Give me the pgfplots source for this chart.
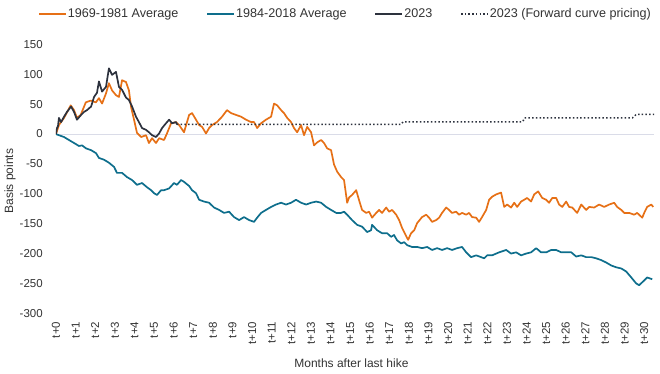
\documentclass[border=0pt]{standalone}
\usepackage{fontspec}
\setmainfont{Liberation Sans}
\usepackage{pgfplots}
\pgfplotsset{compat=1.18}
\definecolor{corange}{RGB}{230,112,22}
\definecolor{cteal}{RGB}{14,110,140}
\definecolor{cblack}{RGB}{45,50,62}
\definecolor{czero}{RGB}{218,220,232}
\begin{document}
\begin{tikzpicture}
\path[use as bounding box] (0pt,0pt) rectangle (660pt,374pt);
\begin{axis}[
  at={(56pt,60.7pt)}, anchor=south west,
  scale only axis, width=598pt, height=268.9pt,
  xmin=0, xmax=30.5, ymin=-300, ymax=150,
  axis line style={draw=none},
  major tick length=0pt,
  xtick={0,...,30},
  xticklabels={t+0,t+1,t+2,t+3,t+4,t+5,t+6,t+7,t+8,t+9,t+10,t+11,t+12,t+13,t+14,t+15,t+16,t+17,t+18,t+19,t+20,t+21,t+22,t+23,t+24,t+25,t+26,t+27,t+28,t+29,t+30},
  xticklabel style={yshift=-5pt, rotate=90, anchor=east, font=\fontsize{11.5}{13}\selectfont, text=black!80},
  ytick={-300,-250,...,150},
  yticklabel style={xshift=-9.7pt, font=\fontsize{11.5}{13}\selectfont, text=black!80},
  /pgf/number format/assume math mode=true,
  xlabel={Months after last hike},
  ylabel={Basis points},
  every axis x label/.style={at={(axis description cs:0.494,-0.185)}, anchor=center, font=\fontsize{12}{14}\selectfont, text=black!80},
  every axis y label/.style={at={(axis description cs:-0.0769,0.492)}, rotate=90, anchor=center, font=\fontsize{12}{14}\selectfont, text=black!80},
  legend columns=4,
  legend style={at={(axis description cs:-0.035,1.113)}, anchor=west, draw=none, fill=none,
    font=\fontsize{12.6}{14}\selectfont, text=black!80,
    /tikz/every even column/.append style={column sep=27pt},
    nodes={inner sep=1pt}},
  legend image code/.code={\draw[#1] (0pt,0pt) -- (27pt,0pt);},
  line join=round,
]
\addplot[czero, line width=0.8pt, forget plot] coordinates {(0,0) (30.5,0)};
\addplot[corange, line width=1.7pt] coordinates {
(0,0) (0.15,15) (0.41,27) (0.75,48) (0.92,40) (1.07,27) (1.26,32) (1.52,53) (1.77,56) (2.03,53)
(2.19,60) (2.35,51) (2.55,68) (2.70,85) (2.86,73) (3.06,65) (3.21,62) (3.37,90) (3.57,87) (3.72,73)
(3.83,45) (3.98,24) (4.13,2) (4.34,-5) (4.59,-2) (4.74,-15) (4.90,-7) (5.10,-15) (5.26,-7) (5.51,-10)
(5.66,1) (5.87,18) (6.12,20) (6.28,15) (6.53,3) (6.79,32) (6.94,35) (7.14,24) (7.30,15) (7.45,12)
(7.65,1) (7.81,10) (7.96,15) (8.21,20) (8.47,29) (8.72,40) (8.93,35) (9.18,32) (9.44,29) (9.69,24)
(9.95,20) (10.10,20) (10.26,10) (10.46,18) (10.71,24) (10.97,29) (11.12,51) (11.28,48) (11.48,40) (11.63,35)
(11.79,27) (11.99,20) (12.14,10) (12.30,3) (12.50,15) (12.65,-2) (12.81,12) (13.01,3) (13.16,-19) (13.32,-14)
(13.52,-10) (13.67,-15) (13.83,-24) (14.03,-27) (14.18,-51) (14.34,-63) (14.54,-72) (14.69,-77) (14.85,-115) (14.95,-106)
(15.10,-102) (15.31,-94) (15.46,-111) (15.61,-127) (15.82,-132) (15.97,-130) (16.12,-140) (16.33,-132) (16.48,-127) (16.63,-132)
(16.84,-123) (16.99,-130) (17.14,-127) (17.35,-135) (17.50,-144) (17.65,-157) (17.86,-171) (17.96,-177) (18.11,-166) (18.27,-161)
(18.42,-149) (18.67,-139) (18.88,-135) (19.03,-140) (19.18,-147) (19.39,-144) (19.54,-140) (19.69,-132) (19.90,-123) (20.05,-127)
(20.20,-132) (20.41,-130) (20.56,-135) (20.71,-132) (20.92,-135) (21.07,-132) (21.22,-139) (21.43,-140) (21.58,-147) (21.73,-139)
(21.94,-127) (22.09,-110) (22.24,-105) (22.45,-101) (22.70,-98) (22.86,-122) (23.01,-118) (23.21,-123) (23.37,-115) (23.52,-122)
(23.72,-113) (23.88,-110) (24.03,-107) (24.23,-113) (24.39,-101) (24.59,-96) (24.80,-107) (25.00,-110) (25.15,-115) (25.31,-107)
(25.51,-107) (25.66,-118) (25.82,-122) (26.02,-113) (26.17,-122) (26.33,-123) (26.58,-132) (26.79,-118) (27.04,-127) (27.19,-122)
(27.45,-123) (27.70,-118) (27.96,-122) (28.21,-118) (28.47,-115) (28.62,-122) (28.83,-127) (28.98,-132) (29.23,-132) (29.49,-135)
(29.64,-132) (29.90,-140) (30.00,-132) (30.15,-122) (30.36,-118) (30.46,-122)
};
\addlegendentry{1969-1981 Average}
\addplot[cteal, line width=1.7pt] coordinates {
(0,0) (0.15,-2) (0.41,-5) (0.66,-10) (0.92,-15) (1.17,-20) (1.33,-19) (1.53,-24) (1.79,-27) (2.04,-32)
(2.19,-40) (2.45,-43) (2.70,-48) (2.96,-55) (3.11,-65) (3.37,-65) (3.62,-72) (3.88,-77) (4.13,-85) (4.39,-82)
(4.64,-89) (4.85,-94) (5.00,-99) (5.15,-102) (5.36,-94) (5.51,-94) (5.77,-91) (6.02,-82) (6.17,-85) (6.38,-77)
(6.53,-80) (6.79,-87) (6.94,-94) (7.14,-99) (7.30,-110) (7.55,-113) (7.81,-115) (8.06,-123) (8.32,-127) (8.57,-132)
(8.83,-130) (9.08,-139) (9.34,-144) (9.59,-139) (9.85,-144) (10.10,-147) (10.26,-140) (10.46,-132) (10.71,-127) (10.97,-122)
(11.22,-118) (11.48,-115) (11.73,-118) (11.99,-115) (12.24,-110) (12.50,-115) (12.76,-118) (13.01,-115) (13.27,-113) (13.52,-115)
(13.78,-122) (14.03,-127) (14.29,-132) (14.54,-132) (14.69,-130) (14.85,-135) (15.10,-144) (15.36,-152) (15.61,-155) (15.87,-164)
(16.07,-161) (16.12,-152) (16.38,-161) (16.63,-166) (16.89,-166) (17.09,-172) (17.24,-169) (17.40,-178) (17.60,-183) (17.76,-181)
(17.91,-186) (18.16,-189) (18.42,-189) (18.67,-191) (18.93,-189) (19.18,-194) (19.44,-191) (19.69,-194) (19.95,-191) (20.20,-194)
(20.46,-191) (20.71,-189) (20.92,-198) (21.17,-206) (21.43,-203) (21.68,-206) (21.84,-208) (21.99,-203) (22.24,-203) (22.60,-198)
(22.96,-194) (23.21,-200) (23.47,-198) (23.72,-203) (23.98,-200) (24.23,-198) (24.49,-191) (24.74,-198) (25.00,-198) (25.26,-194)
(25.51,-194) (25.77,-198) (26.02,-198) (26.28,-198) (26.53,-205) (26.79,-203) (27.04,-206) (27.30,-206) (27.55,-208) (27.81,-211)
(28.06,-215) (28.32,-220) (28.57,-223) (28.83,-225) (29.08,-230) (29.34,-240) (29.59,-250) (29.74,-253) (30.00,-245) (30.15,-240)
(30.41,-243)
};
\addlegendentry{1984-2018 Average}
\addplot[cblack, line width=1.7pt] coordinates {
(0,0) (0.05,10) (0.10,13) (0.15,27) (0.26,20) (0.41,29) (0.56,37) (0.77,46) (0.92,37) (1.07,24)
(1.28,32) (1.43,37) (1.58,40) (1.79,46) (1.94,62) (2.09,69) (2.19,88) (2.35,71) (2.55,79) (2.70,110)
(2.86,99) (3.06,104) (3.21,79) (3.37,74) (3.57,61) (3.72,57) (3.88,46) (4.08,29) (4.23,20) (4.39,10)
(4.59,7) (4.74,3) (4.90,-2) (5.10,-5) (5.26,1) (5.41,10) (5.61,18) (5.77,24) (5.92,18) (6.12,20) (6.17,16)
};
\addlegendentry{2023}
\addplot[cblack, line width=1.5pt, dash pattern=on 1.5pt off 2.2pt] coordinates {
(6.17,16) (17.6,16) (17.7,20.5) (23.8,20.5) (23.9,27) (29.4,27) (29.6,33) (30.5,33)
};
\addlegendentry{2023 (Forward curve pricing)}
\end{axis}
\end{tikzpicture}
\end{document}
